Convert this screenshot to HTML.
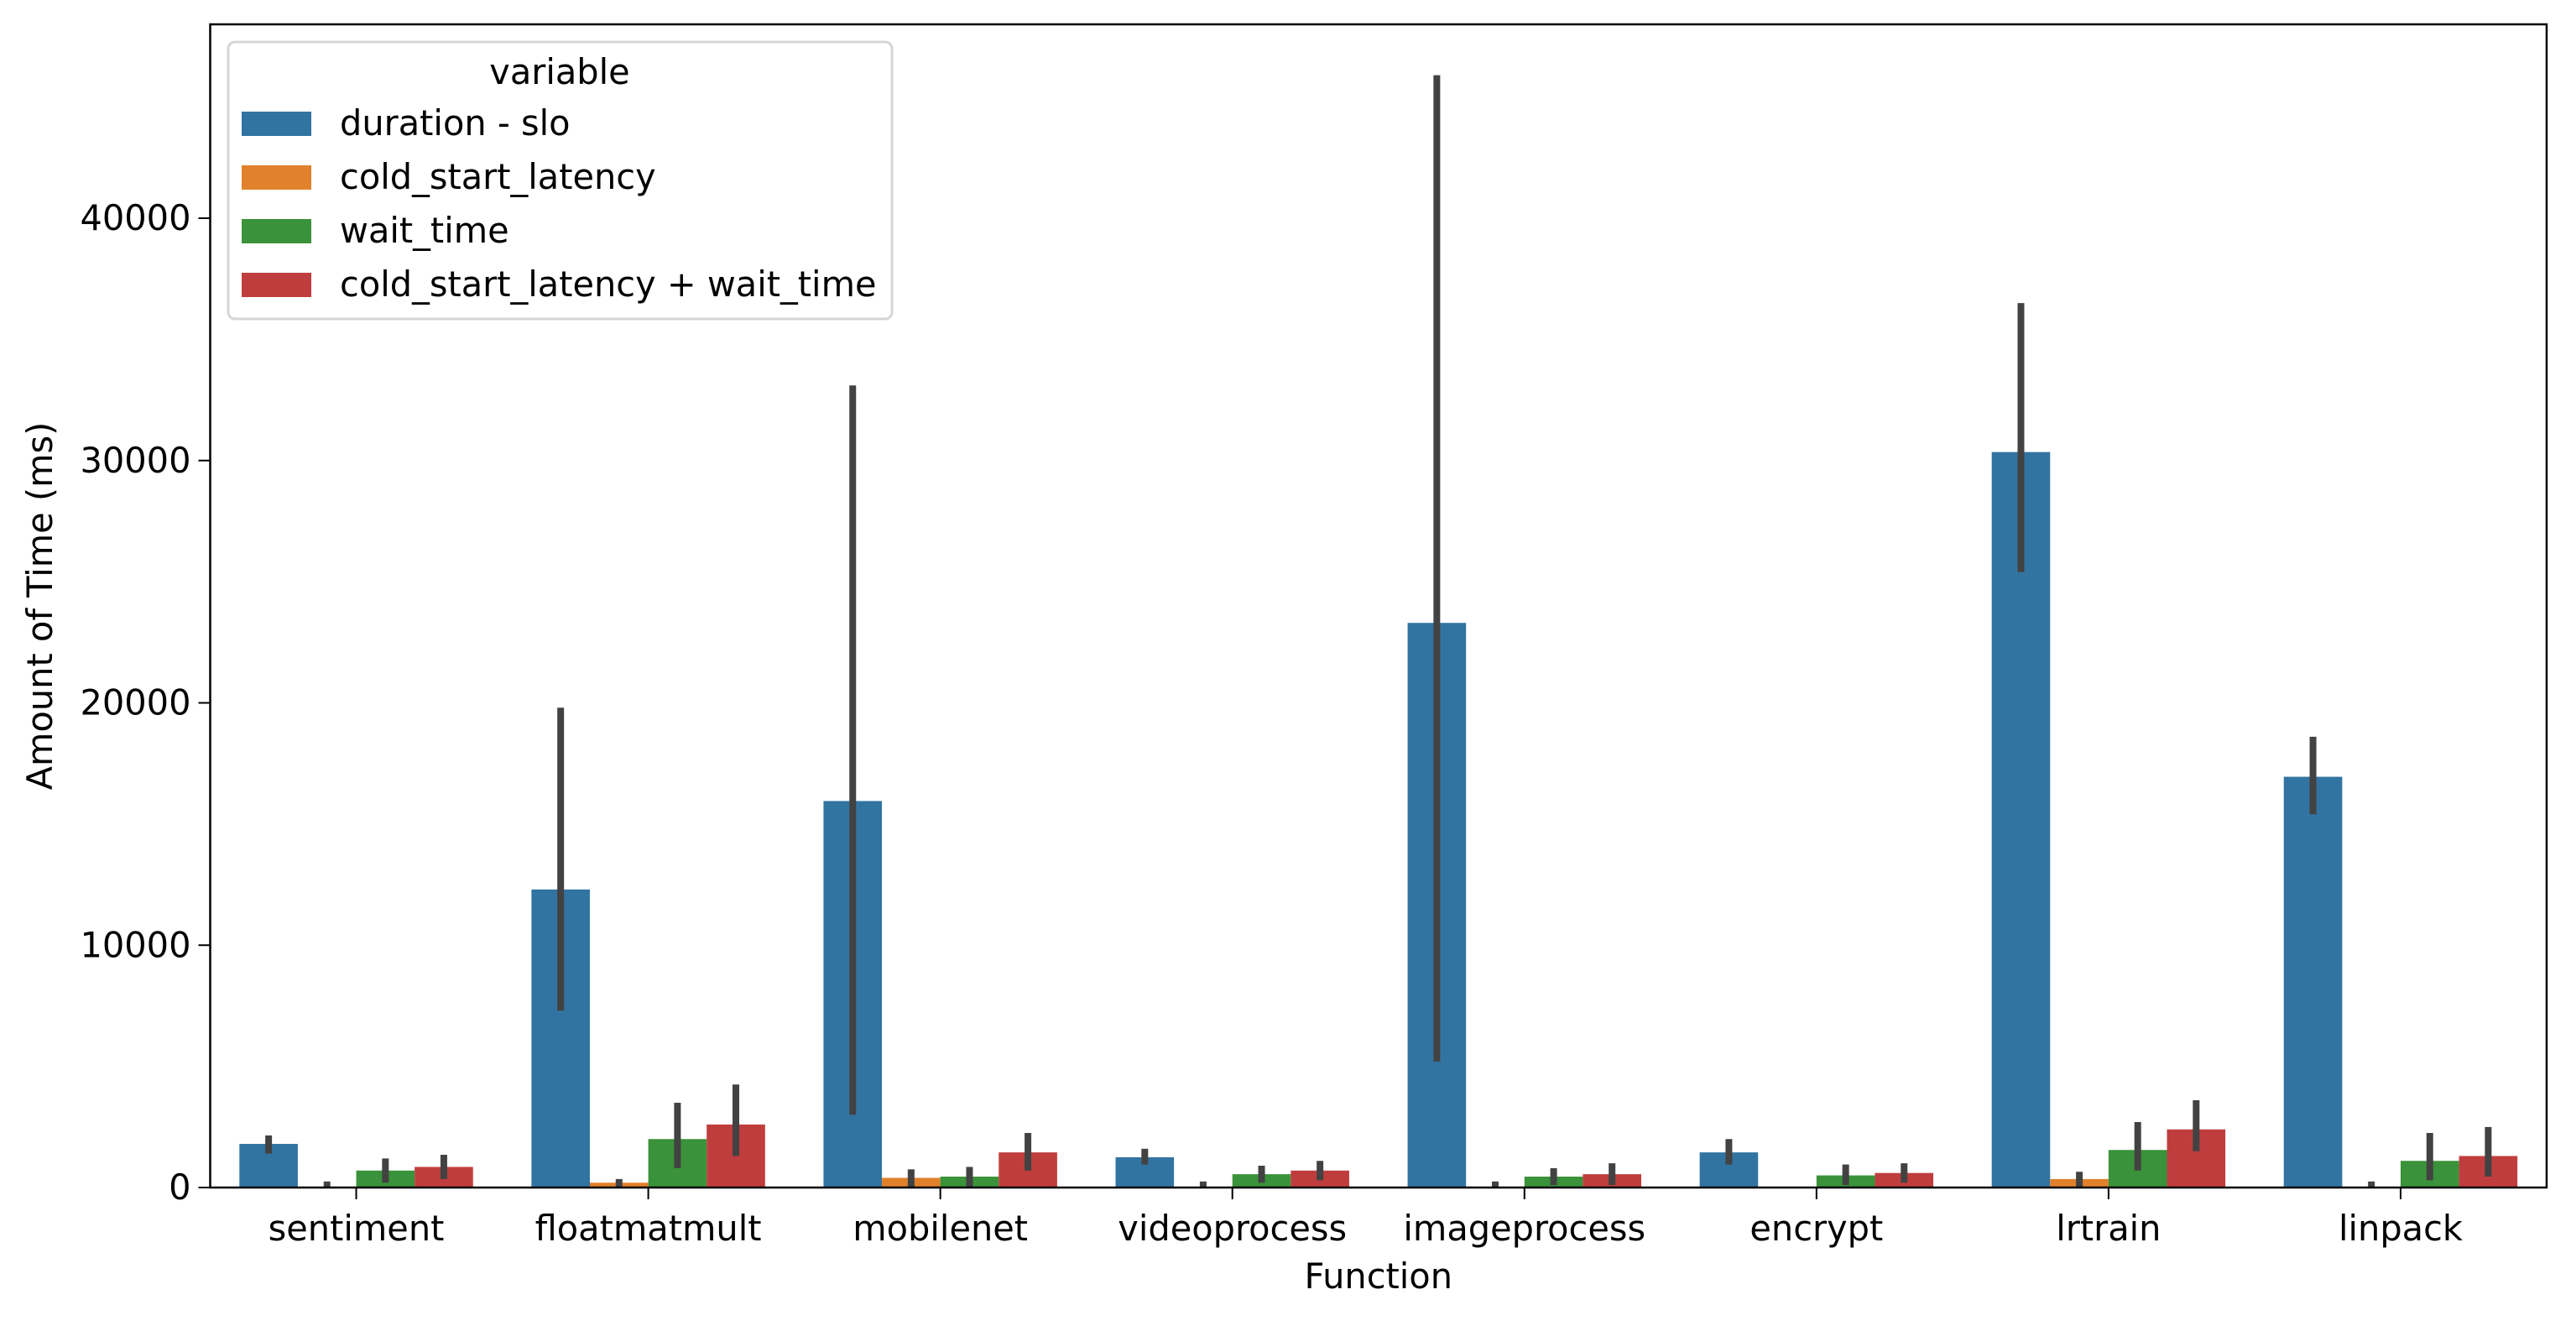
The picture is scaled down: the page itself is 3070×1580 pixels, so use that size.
<!DOCTYPE html>
<html><head><meta charset="utf-8"><style>
body{margin:0;background:#fff}
svg text{font-family:"DejaVu Sans","Liberation Sans",sans-serif;fill:#000}
</style></head><body>
<svg id="chart" width="3070" height="1575" viewBox="0 0 3070 1575" xmlns="http://www.w3.org/2000/svg">
<rect width="3070" height="1575" fill="#fff"/>
<g id="bars"></g>
<g id="axes"></g>
<g id="legend"></g>
</svg>
<script>
const categories = ["sentiment","floatmatmult","mobilenet","videoprocess","imageprocess","encrypt","lrtrain","linpack"];
const seriesNames = ["duration - slo","cold_start_latency","wait_time","cold_start_latency + wait_time"];
const durationVals = [1800,12300,15950,1250,23300,1450,30350,16950];
const durationLo = [1400,7300,3000,950,5200,950,25400,15400];
const durationHi = [2150,19800,33100,1600,45900,2000,36500,18600];
const coldVals = [10,200,400,10,20,0,350,10];
const coldLo = [0,0,0,0,0,0,0,0];
const coldHi = [250,350,750,250,250,0,650,250];
const waitVals = [700,2000,450,550,450,500,1550,1100];
const waitLo = [200,800,0,200,100,100,700,300];
const waitHi = [1200,3500,850,900,800,950,2700,2250];
const sumVals = [850,2600,1450,700,550,600,2400,1300];
const sumLo = [350,1300,700,300,100,200,1500,450];
const sumHi = [1350,4250,2250,1100,1000,1000,3600,2500];
const yTicks = [0,10000,20000,30000,40000];
const colors = ["#3274a1","#e1812c","#3a923a","#c03d3e"];

const L=250.5,R=3035,T=29,B=1415,YMAX=48000,FS=41.5;
const NS="http://www.w3.org/2000/svg";
const step=(R-L)/categories.length;
const xc=i=>L+step*(i+0.5);
const y=v=>B-(v/YMAX)*(B-T);
function mk(tag,attrs,parent){const e=document.createElementNS(NS,tag);for(const k in attrs)e.setAttribute(k,attrs[k]);parent.appendChild(e);return e;}
const bars=document.getElementById('bars'),axes=document.getElementById('axes'),leg=document.getElementById('legend');
const vals=[durationVals,coldVals,waitVals,sumVals],los=[durationLo,coldLo,waitLo,sumLo],his=[durationHi,coldHi,waitHi,sumHi];
const bw=step*0.2;
categories.forEach((c,i)=>{
  for(let s=0;s<4;s++){
    const x0=xc(i)-step*0.4+s*bw;
    const r=mk('rect',{x:x0,y:y(vals[s][i]),width:bw,height:B-y(vals[s][i]),fill:colors[s]},bars);
    
    
    const e=mk('line',{x1:x0+bw/2,x2:x0+bw/2,y1:y(los[s][i]),y2:y(his[s][i]),stroke:'#424242','stroke-width':8},bars);
    
    
  }
  const t=mk('line',{x1:xc(i),x2:xc(i),y1:B,y2:B+14,stroke:'#000','stroke-width':2},axes);
  
  
  const tx=mk('text',{x:xc(i),y:B+63,'text-anchor':'middle','font-size':FS},axes);
  tx.textContent=c;
  
  
});
yTicks.forEach(v=>{
  const t=mk('line',{x1:L-14,x2:L,y1:y(v),y2:y(v),stroke:'#000','stroke-width':2},axes);
  
  
  const tx=mk('text',{x:L-23,y:y(v)+14,'text-anchor':'end','font-size':FS},axes);
  tx.textContent=v;
  
  
});
const fr=mk('rect',{x:L,y:T,width:R-L,height:B-T,fill:'none',stroke:'#000','stroke-width':2.5},axes);


const xl=mk('text',{x:(L+R)/2,y:1535,'text-anchor':'middle','font-size':FS},axes);
xl.textContent='Function';


const yl=mk('text',{x:0,y:0,'text-anchor':'middle','font-size':FS,transform:'translate(62,'+((T+B)/2)+') rotate(-90)'},axes);
yl.textContent='Amount of Time (ms)';


const lb=mk('rect',{x:272,y:50,width:791,height:330,rx:8,fill:'#fff','fill-opacity':0.8,stroke:'#d6d6d6','stroke-width':3},leg);


const lt=mk('text',{x:667,y:100,'text-anchor':'middle','font-size':FS},leg);
lt.textContent='variable';


seriesNames.forEach((n,s)=>{
  const yy=133+s*64;
  const p=mk('rect',{x:288,y:yy,width:83,height:29,fill:colors[s]},leg);
  
  
  const t=mk('text',{x:405,y:yy+28,'font-size':FS},leg);
  t.textContent=n;
  
  
});
</script>
</body></html>
